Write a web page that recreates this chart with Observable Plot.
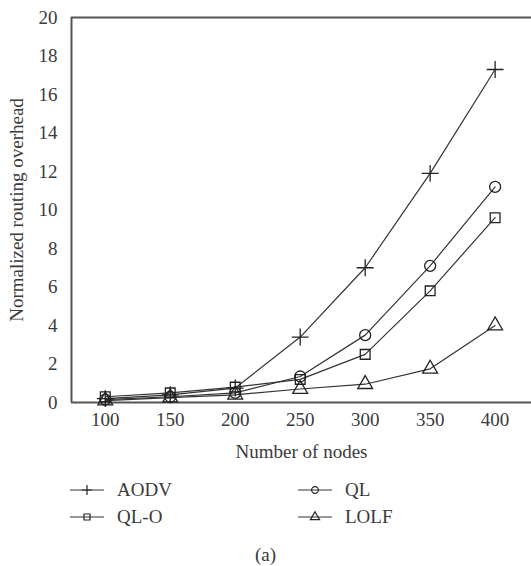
<!DOCTYPE html>
<html><head><meta charset="utf-8">
<script src="https://cdn.jsdelivr.net/npm/d3@7"></script>
<script src="https://cdn.jsdelivr.net/npm/@observablehq/plot@0.6"></script>
<style>
body{margin:0;background:#fff;}
#wrap{position:relative;width:531px;height:566px;font-family:"Liberation Serif",serif;color:#3a3a3a;}
.leg{position:absolute;height:22px;display:flex;align-items:center;font-size:19px;}
.leg svg{margin-right:13px;}
.cap{position:absolute;left:0;width:531px;text-align:center;font-size:19px;}
</style></head><body><div id="wrap"></div>
<script>
const nodes = [100, 150, 200, 250, 300, 350, 400];
const aodv = [0.2, 0.4, 0.75, 3.4, 7.0, 11.9, 17.3];
const ql = [0.15, 0.3, 0.5, 1.35, 3.5, 7.1, 11.2];
const qlo = [0.3, 0.5, 0.8, 1.2, 2.5, 5.8, 9.6];
const lolf = [0.1, 0.25, 0.4, 0.7, 0.95, 1.75, 4.0];
const seriesNames = ["AODV", "QL", "QL-O", "LOLF"];
const seriesSymbols = ["plus", "circle", "square", "triangle"];
const xTicks = [100, 150, 200, 250, 300, 350, 400];
const yTicks = [0, 2, 4, 6, 8, 10, 12, 14, 16, 18, 20];
const legendOrder = ["AODV", "QL", "QL-O", "LOLF"];

const values = [aodv, ql, qlo, lolf];
const data = seriesNames.flatMap((s, i) => nodes.map((n, j) => ({series: s, n, v: values[i][j]})));

const chart = Plot.plot({
  width: 531, height: 470,
  marginLeft: 71, marginRight: 0, marginTop: 17, marginBottom: 68,
  style: {fontFamily: "Liberation Serif, serif", fontSize: "19px", color: "#3a3a3a", background: "white"},
  x: {domain: [74, 428]},
  y: {domain: [0, 20]},
  symbol: {domain: seriesNames, range: seriesSymbols},
  marks: [
    Plot.axisX({ticks: xTicks, tickSize: 0, tickPadding: 10, label: "Number of nodes", labelAnchor: "center", labelArrow: false, labelOffset: 55}),
    Plot.axisY({ticks: yTicks, tickSize: 0, tickPadding: 14, label: "Normalized routing overhead", labelAnchor: "center", labelArrow: false, labelOffset: 62}),
    Plot.ruleY([0, 20], {stroke: "#555", strokeWidth: 2}),
    Plot.ruleX([74], {stroke: "#555", strokeWidth: 2}),
    Plot.line(data, {x: "n", y: "v", z: "series", stroke: "#333", strokeWidth: 1.2}),
    Plot.dot(data, {x: "n", y: "v", symbol: "series", stroke: "#222", fill: "none", r: 5.5, strokeWidth: 1.3})
  ]
});
const wrap = document.getElementById("wrap");
chart.style.position = "absolute";
chart.style.left = "0"; chart.style.top = "0";
wrap.appendChild(chart);

const d3sym = {plus: d3.symbolPlus, circle: d3.symbolCircle, square: d3.symbolSquare, triangle: d3.symbolTriangle};
const pos = [[70, 479], [298, 479], [70, 506], [298, 506]];
legendOrder.forEach((name, i) => {
  const sym = seriesSymbols[seriesNames.indexOf(name)];
  const div = document.createElement("div");
  div.className = "leg";
  div.style.left = pos[i][0] + "px";
  div.style.top = pos[i][1] + "px";
  const path = d3.symbol(d3sym[sym], 36)();
  div.innerHTML = `<svg width="34" height="14"><line x1="0" x2="34" y1="7" y2="7" stroke="#333" stroke-width="1.2"/><path transform="translate(17,7)" d="${path}" fill="none" stroke="#222" stroke-width="1.2"/></svg><span>${name}</span>`;
  wrap.appendChild(div);
});
const cap = document.createElement("div");
cap.className = "cap";
cap.style.top = "544px";
cap.textContent = "(a)";
wrap.appendChild(cap);
</script></body></html>
